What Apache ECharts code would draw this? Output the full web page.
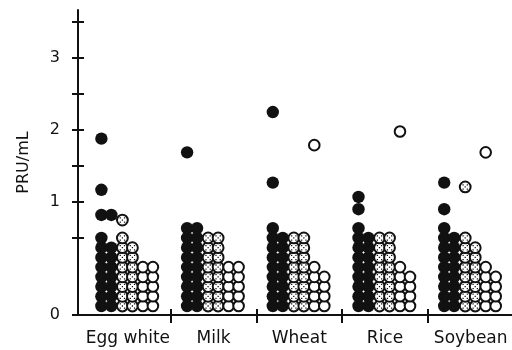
<!DOCTYPE html>
<html>
<head>
<meta charset="utf-8">
<script src="https://cdn.jsdelivr.net/npm/echarts@6/dist/echarts.min.js"></script>
<style>
  html, body { margin: 0; padding: 0; background: #fff; }
  #chart { width: 512px; height: 350px; }
</style>
</head>
<body>
<div id="chart"></div>
<script>
// Allergen groups on the x axis
const foods = ['Egg white', 'Milk', 'Wheat', 'Rice', 'Soybean'];

// Sera below 0.5 PRU/mL are piled up in two columns per group:
// [left column count, right column count] for each food
const stackBlack  = [[8, 7], [9, 9], [9, 8], [9, 8], [9, 8]];
const stackDotted = [[8, 7], [8, 8], [8, 8], [8, 8], [8, 7]];
const stackOpen   = [[5, 5], [5, 5], [5, 4], [5, 4], [5, 4]];

// Individual sera above the pile: [food index, column (0 or 1), PRU/mL]
const highBlack = [
  [0, 0, 1.88], [0, 0, 1.17], [0, 0, 0.82], [0, 1, 0.82],
  [1, 0, 1.69],
  [2, 0, 2.25], [2, 0, 1.27],
  [3, 0, 1.07], [3, 0, 0.90],
  [4, 0, 1.27], [4, 0, 0.90]
];
const highDotted = [[0, 0, 0.75], [4, 0, 1.21]];
const highOpen   = [[2, 0, 1.79], [3, 0, 1.98], [4, 0, 1.69]];

// Y tick labels
const yTickValues = [1, 2, 3];

// ---- layout of the plot ----
const Y_MIN = -0.569;          // bottom of the axis, labelled "0"
const Y_MAX = 3.667;
const ROW_BASE = -0.444;       // centre of the lowest piled dot
const ROW_STEP = 0.135;        // vertical step between piled dots
const COL_OFFSETS = [-0.309, -0.193, -0.064, 0.053, 0.175, 0.292];

function buildPoints(stacks, highs, firstCol) {
  const pts = [];
  stacks.forEach((cols, f) => {
    cols.forEach((n, c) => {
      for (let k = 0; k < n; k++) {
        pts.push([f + COL_OFFSETS[firstCol + c], ROW_BASE + k * ROW_STEP]);
      }
    });
  });
  highs.forEach(([f, c, v]) => pts.push([f + COL_OFFSETS[firstCol + c], v]));
  return pts;
}

const blackPts  = buildPoints(stackBlack, highBlack, 0);
const dottedPts = buildPoints(stackDotted, highDotted, 2);
const openPts   = buildPoints(stackOpen, highOpen, 4);

const INK = '#111';
const FONT = 'DejaVu Sans';
const speckPath = 'path://M0,0h1.6v1.6h-1.6z M5.4,0h1.6v1.6h-1.6z M2.7,2.7h1.6v1.6h-1.6z M0,5.4h1.6v1.6h-1.6z M5.4,5.4h1.6v1.6h-1.6z';

const yTicks = [Y_MIN, 0.5, 1, 1.5, 2, 2.5, 3, 3.5];
const xTicks = [0.5, 1.5, 2.5, 3.5];

const chart = echarts.init(document.getElementById('chart'), null, { renderer: 'canvas' });
chart.setOption({
  animation: false,
  backgroundColor: '#fff',
  grid: { left: 78, right: 0, top: 10, bottom: 35, containLabel: false },
  xAxis: [
    {
      type: 'value', min: -0.582, max: 4.482, position: 'bottom',
      splitLine: { show: false },
      axisLine: { show: true, onZero: false, lineStyle: { color: INK, width: 2 } },
      axisTick: { show: true, inside: false, length: 8, customValues: xTicks, lineStyle: { color: INK, width: 2 } },
      axisLabel: {
        show: true, customValues: [0, 1, 2, 3, 4], margin: 15,
        formatter: v => foods[Math.round(v)],
        color: INK, fontFamily: FONT, fontSize: 17
      }
    },
    {
      type: 'value', min: -0.582, max: 4.482, position: 'bottom', offset: 0,
      splitLine: { show: false },
      axisLine: { show: false, onZero: false },
      axisTick: { show: true, inside: true, length: 6, customValues: xTicks, lineStyle: { color: INK, width: 2 } },
      axisLabel: { show: false }
    }
  ],
  yAxis: [
    {
      type: 'value', min: Y_MIN, max: Y_MAX, position: 'left',
      name: 'PRU/mL', nameLocation: 'middle', nameGap: 46, nameRotate: 90,
      nameTextStyle: { color: INK, fontFamily: FONT, fontSize: 16 },
      splitLine: { show: false },
      axisLine: { show: true, onZero: false, lineStyle: { color: INK, width: 2 } },
      axisTick: { show: true, inside: true, length: 6, customValues: yTicks, lineStyle: { color: INK, width: 2 } },
      axisLabel: {
        show: true, customValues: [Y_MIN].concat(yTickValues), margin: 18,
        formatter: v => (v < 0.5 ? '0' : String(Math.round(v))),
        color: INK, fontFamily: FONT, fontSize: 16
      }
    },
    {
      type: 'value', min: Y_MIN, max: Y_MAX, position: 'left', offset: 0,
      splitLine: { show: false },
      axisLine: { show: false, onZero: false },
      axisTick: { show: true, inside: false, length: 6, customValues: yTicks, lineStyle: { color: INK, width: 2 } },
      axisLabel: { show: false }
    }
  ],
  series: [
    {
      type: 'scatter', silent: true, data: blackPts,
      symbol: 'circle', symbolSize: 12.4,
      itemStyle: { color: INK, opacity: 1 }
    },
    {
      type: 'scatter', silent: true, data: dottedPts,
      symbol: 'circle', symbolSize: 10.8,
      itemStyle: { color: '#fff', borderColor: INK, borderWidth: 2, opacity: 1 }
    },
    {
      type: 'scatter', silent: true, data: dottedPts,
      symbol: speckPath, symbolSize: 5.5,
      itemStyle: { color: INK, opacity: 1 }
    },
    {
      type: 'scatter', silent: true, data: openPts,
      symbol: 'circle', symbolSize: 10.6,
      itemStyle: { color: '#fff', borderColor: INK, borderWidth: 2, opacity: 1 }
    }
  ]
});
</script>
</body>
</html>
